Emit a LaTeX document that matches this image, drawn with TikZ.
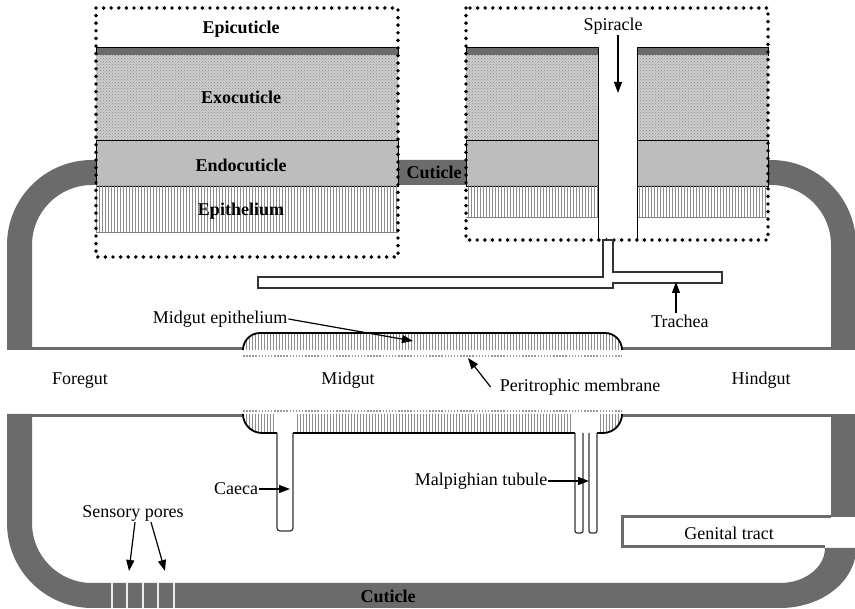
\documentclass[tikz,border=0pt]{standalone}
\usepackage{fontspec}
\setmainfont{Liberation Serif}
\usetikzlibrary{arrows.meta,patterns}
\definecolor{cuticlegray}{gray}{0.42}
\definecolor{exogray}{gray}{0.80}
\definecolor{endogray}{gray}{0.74}

\begin{document}
\begin{tikzpicture}[
    x=1pt, y=-1pt,
    mylabel/.style={inner sep=1pt, font=\fontsize{18}{20}\selectfont},
    myboldlabel/.style={inner sep=1pt, font=\fontsize{18}{20}\selectfont\bfseries},
    myarrow/.style={-{Triangle[length=11pt,width=8pt]}, line width=1.2pt},
    myframe/.style={draw=black, line width=3.9pt, line cap=round, dash pattern=on 0pt off 7.6pt},
    mywall/.style={draw=cuticlegray, line width=3pt},
    mytube/.style={draw=black!80, line width=1.2pt},
    mygut/.style={draw=black, line width=1.8pt},
    mymembrane/.style={draw=gray!80, line width=1.8pt, dash pattern=on 1.5pt off 1.6pt},
    mydark/.style={fill=cuticlegray, draw=black, line width=0.6pt},
    myexo/.style={fill=exogray, postaction={pattern=crosshatch dots, pattern color=black!45}},
    myendo/.style={fill=endogray, draw=black, line width=0.6pt},
    myhatch/.style={pattern=vertical lines, pattern color=black!45},
]
\useasboundingbox (0,0) rectangle (855,609);

% body cuticle
\fill[cuticlegray] (7,350) -- (7,245) arc (180:270:85) -- (771,160) arc (270:360:85) -- (856,350)
    -- (831,350) -- (831,245) arc (0:-90:60) -- (92,185) arc (270:180:60) -- (32,350) -- cycle;
\fill[cuticlegray] (7,414) -- (7,523) arc (180:90:85) -- (780,608) arc (90:0:76 and 60) -- (856,548)
    -- (825,548) arc (0:90:45 and 35) -- (92,583) arc (90:180:60) -- (32,414) -- cycle;
\fill[cuticlegray] (831,414) rectangle (856,517);

% gut walls and genital tract
\draw[mywall] (7,349) -- (243,349);
\draw[mywall] (622,349) -- (856,349);
\draw[mywall] (7,415.5) -- (243,415.5);
\draw[mywall] (622,415.5) -- (856,415.5);
\draw[mywall] (831,517) -- (622,517) -- (622,547) -- (825,547);

% sensory pores
\foreach \x in {112,127,143,158,174}
    \draw[white!85!gray, line width=1.2pt] (\x,583) -- (\x,608);

% left cuticle section
\fill[white] (96,8) rectangle (398,257);
\filldraw[mydark] (96,47) rectangle (398,55);
\path[myexo] (96,55) rectangle (398,140);
\filldraw[myendo] (96,140) rectangle (398,186);
\path[myhatch] (96,186) rectangle (398,232);
\draw[gray, line width=0.8pt] (96,232.5) -- (398,232.5);
\draw[myframe] (96,8) rectangle (398,257);

% right cuticle section with spiracle
\fill[white] (466,8) rectangle (768,240);
\filldraw[mydark] (466,47) rectangle (598,55);
\path[myexo] (466,55) rectangle (598,140);
\filldraw[myendo] (466,140) rectangle (598,186);
\path[myhatch] (466,186) rectangle (598,217);
\draw[gray, line width=0.8pt] (466,217) -- (598,217);
\filldraw[mydark] (637,47) rectangle (768,55);
\path[myexo] (637,55) rectangle (768,140);
\filldraw[myendo] (637,140) rectangle (768,186);
\path[myhatch] (637,186) rectangle (768,217);
\draw[gray, line width=0.8pt] (637,217) -- (768,217);
\draw[black, line width=0.8pt] (598,47) -- (598,240);
\draw[black, line width=0.8pt] (637,47) -- (637,240);
\draw[myframe] (466,8) rectangle (768,240);

% trachea
\draw[mytube, fill=white] (603,240) -- (603,277) -- (258,277) -- (258,288) -- (613,288) -- (613,283)
    -- (722,283) -- (722,272) -- (613,272) -- (613,240) -- cycle;

% midgut epithelium
\path[myhatch] (243,350) arc (180:270:17) -- (605,333) arc (270:360:17) -- cycle;
\draw[mygut] (243,350) arc (180:270:17) -- (605,333) arc (270:360:17);
\begin{scope}
\clip (243,414) arc (180:90:19) -- (603,433) arc (90:0:19) -- cycle;
\path[myhatch] (243,414) rectangle (275,433);
\path[myhatch] (297,414) rectangle (572,433);
\path[myhatch] (600,414) rectangle (622,433);
\end{scope}
\draw[mygut] (243,414) arc (180:90:19) -- (277,433);
\draw[mygut] (293,433) -- (575,433);
\draw[mygut] (597,433) -- (603,433) arc (90:0:19);
\draw[mymembrane] (243,356) -- (622,356);
\draw[mymembrane] (243,411) -- (622,411);

% caeca and malpighian tubules
\draw[mytube, rounded corners=3pt] (277,433) -- (277,531) -- (293,531) -- (293,433);
\draw[mytube, rounded corners=2pt] (575,433) -- (575,533) -- (583,533) -- (583,433);
\draw[mytube, rounded corners=2pt] (589,433) -- (589,533) -- (597,533) -- (597,433);

% labels
\node[myboldlabel] (epicut) at (241,29) {Epicuticle};
\node[myboldlabel] (exocut) at (241,97) {Exocuticle};
\node[myboldlabel] (endocut) at (241,165) {Endocuticle};
\node[myboldlabel] (epith) at (241,211) {Epithelium};
\node[myboldlabel] (cuttop) at (434,172) {Cuticle};
\node[myboldlabel] (cutbottom) at (388,596) {Cuticle};
\node[mylabel] (spiracle) at (613,26) {Spiracle};
\node[mylabel] (trachea) at (680,321) {Trachea};
\node[mylabel] (midepi) at (220,319) {Midgut epithelium};
\node[mylabel] (foregut) at (80,381) {Foregut};
\node[mylabel] (midgut) at (348,380) {Midgut};
\node[mylabel] (hindgut) at (761,380) {Hindgut};
\node[mylabel] (perimem) at (580,387) {Peritrophic membrane};
\node[mylabel] (caeca) at (236,489) {Caeca};
\node[mylabel] (malpig) at (481,481) {Malpighian tubule};
\node[mylabel] (sensory) at (133,513) {Sensory pores};
\node[mylabel] (genital) at (729,533) {Genital tract};

% arrow targets
\coordinate (spiracletip) at (618,93);
\coordinate (tracheatip) at (676,282);
\coordinate (midepitip) at (413,341);
\coordinate (perimemtip) at (468,358);
\coordinate (caecatip) at (290,489);
\coordinate (malpigtip) at (589,481);
\coordinate (poretipa) at (129,571);
\coordinate (poretipb) at (165,571);

\draw[myarrow] (spiracle.south -| spiracletip) -- (spiracletip);
\draw[myarrow] (trachea.north -| tracheatip) -- (tracheatip);
\draw[myarrow] (midepi.east) -- (midepitip);
\draw[myarrow] ([xshift=-8pt]perimem.west) -- (perimemtip);
\draw[myarrow] (caeca.east) -- (caecatip);
\draw[myarrow] (malpig.east) -- (malpigtip);
\draw[myarrow] ([xshift=2pt]sensory.south) -- (poretipa);
\draw[myarrow] ([xshift=18pt]sensory.south) -- (poretipb);
\end{tikzpicture}
\end{document}
